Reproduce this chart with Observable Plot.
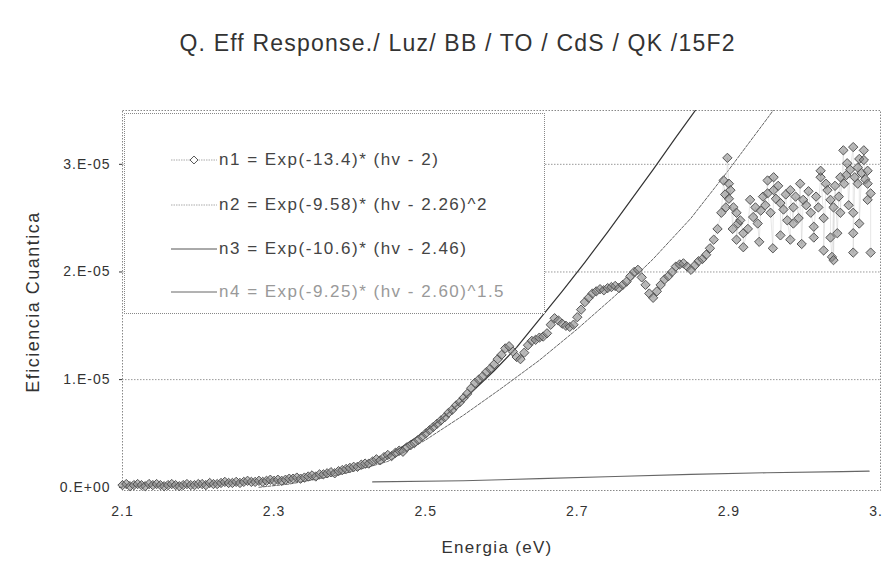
<!DOCTYPE html>
<html><head><meta charset="utf-8">
<script src="https://cdn.jsdelivr.net/npm/d3@7"></script>
<script src="https://cdn.jsdelivr.net/npm/@observablehq/plot@0.6"></script>
<style>
body{margin:0;background:#fff;font-family:"Liberation Sans",Arial,sans-serif;}
#wrap{position:relative;width:883px;height:586px;overflow:hidden;background:#fff;}
#title{position:absolute;left:0;top:29px;width:883px;padding-left:32px;box-sizing:border-box;text-align:center;font-size:23px;letter-spacing:1.2px;color:#333;line-height:28px;}
#chart{position:absolute;left:0;top:0;}
#legend{position:absolute;left:124px;top:113px;width:419px;height:199px;background:#fff;border:1px dotted #888;}
.row{position:absolute;left:0;height:22px;width:419px;}
.row svg{position:absolute;left:46px;top:6px;}
.row span{position:absolute;left:94px;top:1px;font-size:17px;letter-spacing:1.5px;color:#444;white-space:nowrap;line-height:22px;}
#ytitle{position:absolute;left:33px;top:302px;transform:translate(-50%,-50%) rotate(-90deg);font-size:18px;letter-spacing:1.5px;color:#333;white-space:nowrap;}
#xtitle{position:absolute;left:497px;top:548px;transform:translate(-50%,-50%);font-size:17px;letter-spacing:1.3px;color:#333;white-space:nowrap;}
</style>
</head><body>
<div id="wrap">
  <div id="chart"></div>
  <div id="title"></div>
  <div id="legend"></div>
  <div id="ytitle"></div>
  <div id="xtitle"></div>
</div>
<script>
// ---- text ----
const titleText = "Q. Eff Response./ Luz/ BB / TO / CdS / QK /15F2";
const xTitle = "Energia (eV)";
const yTitle = "Eficiencia Cuantica";
const seriesNames = [
  "n1 = Exp(-13.4)* (hv - 2)",
  "n2 = Exp(-9.58)* (hv - 2.26)^2",
  "n3 = Exp(-10.6)* (hv - 2.46)",
  "n4 = Exp(-9.25)* (hv - 2.60)^1.5"
];

// ---- axes ----
const xTicks = [2.1, 2.3, 2.5, 2.7, 2.9, 3.1];
const xTickLabels = ["2.1", "2.3", "2.5", "2.7", "2.9", "3.1"];
const yTicks = [0, 1, 2, 3];            // units of 1e-5
const yTickLabels = ["0.E+00", "1.E-05", "2.E-05", "3.E-05"];

// ---- n1 measured data (efficiency in units of 1e-5) ----
const denseE = [
2.100,2.105,2.110,2.115,2.120,2.125,2.130,2.135,2.140,2.145,2.150,2.155,2.160,2.165,2.170,2.175,2.180,2.185,2.190,2.195,
2.200,2.205,2.210,2.215,2.220,2.225,2.230,2.235,2.240,2.245,2.250,2.255,2.260,2.265,2.270,2.275,2.280,2.285,2.290,2.295,
2.300,2.305,2.310,2.315,2.320,2.325,2.330,2.335,2.340,2.345,2.350,2.355,2.360,2.365,2.370,2.375,2.380,2.385,2.390,2.395,
2.400,2.405,2.410,2.415,2.420,2.425,2.430,2.435,2.440,2.445,2.450,2.455,2.460,2.465,2.470,2.475,2.480,2.485,2.490,2.495,
2.500,2.505,2.510,2.515,2.520,2.525,2.530,2.535,2.540,2.545,2.550,2.555,2.560,2.565,2.570,2.575,2.580,2.585,2.590,2.595,
2.600,2.605,2.610,2.615,2.620,2.625,2.630,2.635,2.640,2.645,2.650,2.655,2.660,2.665,2.670,2.675,2.680,2.685,2.690,2.695,
2.700,2.705,2.710,2.715,2.720,2.725,2.730,2.735,2.740,2.745,2.750,2.755,2.760,2.765,2.770,2.775,2.780,2.785,2.790,2.795,
2.800,2.805,2.810,2.815,2.820,2.825,2.830,2.835,2.840,2.845,2.850,2.855,2.860,2.865,2.870,2.875,2.880,2.885,2.890,2.895,
2.900];
const denseQ = [
0.02,0.03,0.01,0.02,0.03,0.02,0.01,0.03,0.02,0.03,0.02,0.01,0.02,0.03,0.02,0.01,0.02,0.03,0.02,0.02,
0.03,0.03,0.02,0.04,0.03,0.03,0.04,0.05,0.04,0.04,0.05,0.04,0.05,0.06,0.05,0.05,0.06,0.05,0.06,0.07,
0.06,0.07,0.06,0.07,0.08,0.08,0.09,0.08,0.09,0.10,0.11,0.10,0.12,0.12,0.13,0.14,0.13,0.15,0.16,0.17,
0.18,0.19,0.19,0.21,0.22,0.22,0.24,0.26,0.25,0.28,0.30,0.29,0.32,0.34,0.33,0.37,0.39,0.41,0.44,0.47,
0.50,0.53,0.56,0.59,0.62,0.65,0.69,0.72,0.76,0.79,0.83,0.87,0.92,0.97,1.00,1.03,1.07,1.10,1.14,1.19,
1.23,1.29,1.31,1.26,1.21,1.19,1.25,1.32,1.36,1.37,1.39,1.40,1.43,1.51,1.57,1.55,1.52,1.50,1.49,1.51,
1.58,1.65,1.72,1.76,1.80,1.82,1.84,1.83,1.85,1.86,1.87,1.85,1.88,1.91,1.96,2.00,2.02,1.95,1.88,1.80,
1.76,1.82,1.88,1.93,1.96,2.00,2.05,2.07,2.08,2.05,2.02,2.06,2.10,2.12,2.16,2.22,2.30,2.40,2.55,2.72,
2.82];
const scatterE = [
2.893,2.896,2.898,2.900,2.902,2.905,2.906,2.910,2.910,2.912,2.915,2.919,2.919,2.925,2.928,2.932,2.935,2.938,2.940,2.942,
2.945,2.948,2.951,2.951,2.955,2.958,2.959,2.959,2.962,2.965,2.968,2.968,2.972,2.975,2.977,2.981,2.981,2.985,2.985,2.988,
2.992,2.994,2.996,2.998,3.002,3.005,3.008,3.012,3.012,3.015,3.018,3.021,3.021,3.025,3.025,3.028,3.030,3.034,3.034,3.036,
3.038,3.038,3.040,3.043,3.045,3.047,3.047,3.051,3.052,3.055,3.056,3.058,3.060,3.064,3.064,3.064,3.064,3.066,3.070,3.070,
3.072,3.072,3.075,3.078,3.078,3.080,3.083,3.083,3.083,3.087,3.087];
const scatterQ = [
2.85,2.60,3.06,2.68,2.76,2.40,2.60,2.55,2.30,2.45,2.48,2.36,2.23,2.40,2.67,2.51,2.60,2.45,2.28,2.57,
2.70,2.62,2.85,2.73,2.55,2.22,2.88,2.76,2.68,2.80,2.64,2.34,2.58,2.72,2.48,2.30,2.76,2.45,2.60,2.70,
2.50,2.82,2.26,2.67,2.62,2.75,2.55,2.42,2.32,2.70,2.60,2.88,2.94,2.50,2.20,2.82,2.76,2.67,2.32,2.14,
2.60,2.11,2.80,2.36,2.70,2.88,2.55,3.13,2.82,2.90,3.01,2.62,2.95,3.16,2.55,2.36,2.18,2.88,2.97,2.82,
3.05,2.45,2.92,3.13,3.04,2.86,2.94,2.82,2.67,2.73,2.18];

// ---- fitted curves ----
const n2E = [2.28,2.32,2.36,2.40,2.45,2.50,2.55,2.60,2.65,2.70,2.75,2.80,2.85,2.90,2.95,3.00];
const n2Q = [0.00,0.03,0.08,0.14,0.24,0.44,0.67,0.92,1.18,1.47,1.78,2.12,2.50,2.95,3.42,3.90];
const n3E = [2.44,2.47,2.50,2.53,2.56,2.59,2.62,2.65,2.68,2.71,2.74,2.77,2.80,2.83,2.87];
const n3Q = [0.25,0.38,0.52,0.69,0.88,1.08,1.30,1.56,1.82,2.09,2.37,2.66,2.95,3.25,3.64];
const n4E = [2.43,2.55,2.65,2.75,2.85,2.95,3.05,3.085];
const n4Q = [0.05,0.06,0.08,0.10,0.12,0.135,0.145,0.15];

// ---- build tables ----
const zip = (E, Q) => E.map((e, i) => ({e, q: Q[i]}));
const n1Rows = zip(denseE, denseQ).concat(zip(scatterE, scatterQ)).sort((a, b) => a.e - b.e);
const n2Rows = zip(n2E, n2Q), n3Rows = zip(n3E, n3Q), n4Rows = zip(n4E, n4Q);

const font = "Liberation Sans, Arial, sans-serif";
const chart = Plot.plot({
  width: 883, height: 586,
  marginTop: 110, marginRight: 3, marginBottom: 96, marginLeft: 122,
  style: {fontFamily: font, fontSize: "14px", color: "#333", background: "transparent", letterSpacing: "1px"},
  x: {domain: [2.1, 3.1], ticks: xTicks, tickFormat: d => xTickLabels[xTicks.indexOf(d)], tickSize: 0, tickPadding: 16, label: null},
  y: {domain: [-0.03, 3.5], ticks: yTicks, tickFormat: d => yTickLabels[yTicks.indexOf(d)], tickSize: 3, tickPadding: 9, label: null},
  marks: [
    Plot.ruleY(yTicks.slice(1), {stroke: "#999", strokeDasharray: "1.5,1.5"}),
    Plot.frame({stroke: "#888", strokeDasharray: "1.5,1.5"}),
    Plot.line(n4Rows, {x: "e", y: "q", stroke: "#666", strokeWidth: 1.1}),
    Plot.line(n2Rows, {x: "e", y: "q", stroke: "#666", strokeWidth: 1, strokeDasharray: "3,1.5", clip: true}),
    Plot.line(n3Rows, {x: "e", y: "q", stroke: "#333", strokeWidth: 1.2, clip: true}),
    Plot.line(n1Rows, {x: "e", y: "q", stroke: "#cfcfcf", strokeWidth: 0.5}),
    Plot.dot(n1Rows, {x: "e", y: "q", symbol: "diamond2", r: 4.2, stroke: "#555", fill: "#7f7f7f", fillOpacity: 0.55, strokeWidth: 1})
  ]
});
document.getElementById("chart").appendChild(chart);

document.getElementById("title").textContent = titleText;
document.getElementById("xtitle").textContent = xTitle;
document.getElementById("ytitle").textContent = yTitle;

// ---- legend ----
const legendStyles = [
  {stroke: "#aaa", dash: "1.5,1", marker: true, color: "#444"},
  {stroke: "#aaa", dash: "1.5,1", marker: false, color: "#444"},
  {stroke: "#555", dash: null, marker: false, color: "#444"},
  {stroke: "#666", dash: null, marker: false, color: "#999"}
];
const rowTops = [34, 79, 123, 166];
const legend = d3.select("#legend");
seriesNames.forEach((name, i) => {
  const st = legendStyles[i];
  const row = legend.append("div").attr("class", "row").style("top", rowTops[i] + "px");
  const svg = row.append("svg").attr("width", 46).attr("height", 12);
  svg.append("line").attr("x1", 0).attr("x2", 46).attr("y1", 6).attr("y2", 6)
    .attr("stroke", st.stroke).attr("stroke-width", 1).attr("stroke-dasharray", st.dash);
  if (st.marker) svg.append("path").attr("d", d3.symbol(d3.symbolDiamond2, 40)()).attr("transform", "translate(23,6)")
    .attr("fill", "#fff").attr("stroke", "#555");
  row.append("span").style("color", st.color).text(name);
});
</script>
</body></html>
